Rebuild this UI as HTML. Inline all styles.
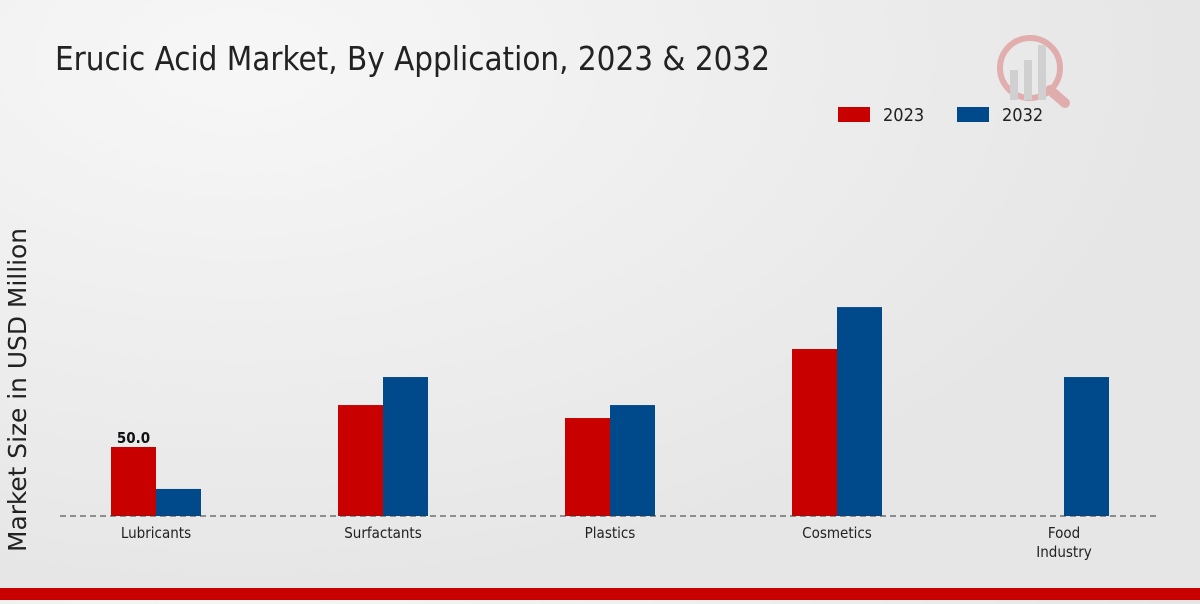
<!DOCTYPE html>
<html><head><meta charset="utf-8"><style>
body{margin:0;width:1200px;height:600px;overflow:hidden;background:radial-gradient(ellipse at 20% 10%,#f7f7f7,#e6e6e6 70%);font-family:"DejaVu Sans Condensed","DejaVu Sans","Liberation Sans",sans-serif;font-stretch:condensed}
</style></head><body>
<svg width="1200" height="600" xmlns="http://www.w3.org/2000/svg">
<text x="55" y="70" font-size="33" textLength="715" lengthAdjust="spacingAndGlyphs" fill="#222">Erucic Acid Market, By Application, 2023 &amp; 2032</text>
<g opacity="0.25">
<circle cx="1030" cy="68" r="30" fill="none" stroke="#c00" stroke-width="6"/>
<line x1="1050" y1="90" x2="1065" y2="103" stroke="#c00" stroke-width="10" stroke-linecap="round"/>
<rect x="1010" y="70" width="8" height="30" fill="#888"/><rect x="1024" y="60" width="8" height="40" fill="#888"/><rect x="1038" y="45" width="8" height="55" fill="#888"/>
</g>
<g>
<rect x="838" y="107" width="32" height="15" fill="#c90000"/>
<text x="883" y="121" font-size="18" fill="#222">2023</text>
<rect x="957" y="107" width="32" height="15" fill="#004a8c"/>
<text x="1002" y="121" font-size="18" fill="#222">2032</text>
</g>
<text transform="translate(26,390) rotate(-90)" text-anchor="middle" font-size="25" textLength="324" lengthAdjust="spacingAndGlyphs" fill="#222">Market Size in USD Million</text>
<g id="bars"></g>
<line x1="60" y1="516" x2="1160" y2="516" stroke="#333" stroke-dasharray="6,4"/>
<g id="labels"></g>
<rect x="0" y="588" width="1200" height="12" fill="#c90000"/>
</svg>
<script>
const categories=[["Lubricants"],["Surfactants"],["Plastics"],["Cosmetics"],["Food","Industry"]];
const values2023=[50.0,80.4,71.0,121.0,0];
const values2032=[19.6,100.7,80.4,151.4,100.7];
const shownLabels=["50.0",null,null,null,null];
const base=516,scale=1.38,x0=156,step=227,bw=45;
const y=v=>base-v*scale, cx=i=>x0+i*step;
const ns="http://www.w3.org/2000/svg";
const bars=document.getElementById('bars'),labels=document.getElementById('labels');
categories.forEach((c,i)=>{
  [[values2023,'#c90000',-bw,'2023'],[values2032,'#004a8c',0,'2032']].forEach(([arr,col,off,yr])=>{
    if(arr[i]<=0)return;
    const r=document.createElementNS(ns,'rect');
    r.setAttribute('x',cx(i)+off);r.setAttribute('width',bw);
    r.setAttribute('y',y(arr[i]));r.setAttribute('height',base-y(arr[i]));r.setAttribute('fill',col);
    
    
    bars.appendChild(r);
  });
  if(shownLabels[i]){
    const t=document.createElementNS(ns,'text');
    t.setAttribute('x',cx(i)-bw/2);t.setAttribute('y',y(values2023[i])-4);
    t.setAttribute('text-anchor','middle');t.setAttribute('font-size','15');t.setAttribute('font-weight','bold');t.setAttribute('fill','#111');
    t.textContent=shownLabels[i];
    
    
    labels.appendChild(t);
  }
  c.forEach((line,j)=>{
    const t=document.createElementNS(ns,'text');
    t.setAttribute('x',cx(i));t.setAttribute('y',538+j*19);
    t.setAttribute('text-anchor','middle');t.setAttribute('font-size','15');t.setAttribute('fill','#222');
    t.textContent=line;
    
    
    labels.appendChild(t);
  });
});
</script>
</body></html>
